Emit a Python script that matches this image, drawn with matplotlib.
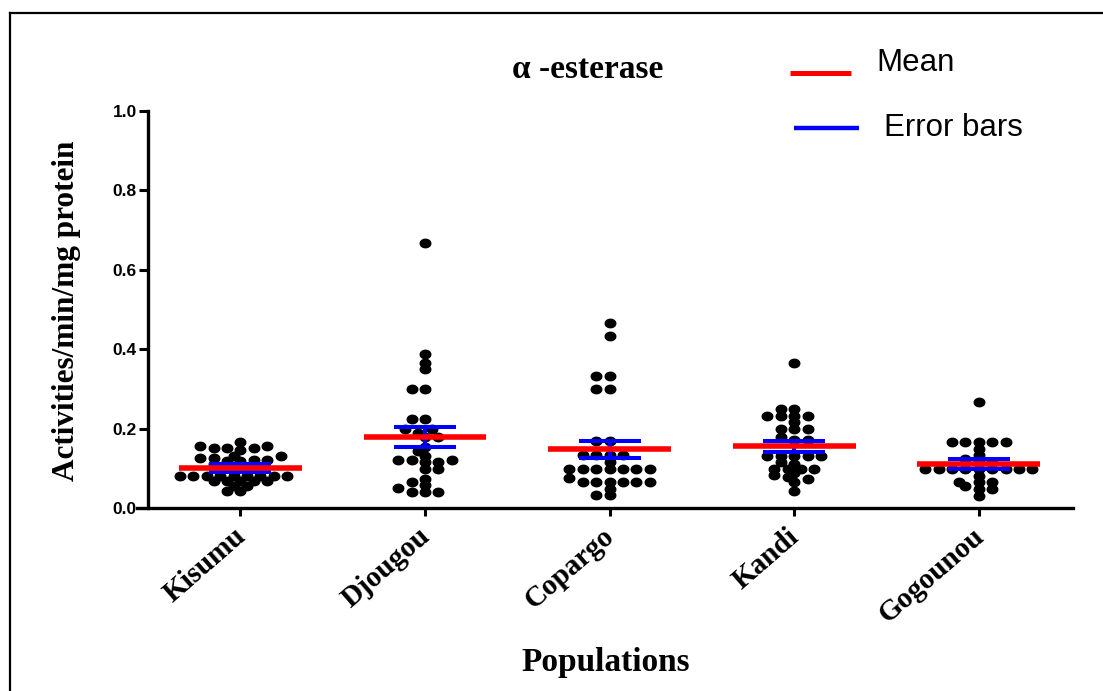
import numpy as np
import matplotlib
matplotlib.use("Agg")
import matplotlib.pyplot as plt
from matplotlib.lines import Line2D
from matplotlib.path import Path
import matplotlib.transforms as mtransforms

# ---------------- data ----------------
categories = ["Kisumu", "Djougou", "Copargo", "Kandi", "Gogounou"]

kisumu = [0.165, 0.155, 0.155, 0.150, 0.150, 0.150, 0.145, 0.130, 0.130, 0.125,
          0.125, 0.120, 0.120, 0.118, 0.118, 0.110, 0.100, 0.100, 0.100,
          0.080, 0.080, 0.080, 0.080, 0.080, 0.080, 0.080, 0.080, 0.080,
          0.068, 0.068, 0.068, 0.068, 0.068, 0.055, 0.055, 0.043, 0.043]
djougou = [0.667, 0.388, 0.366, 0.350, 0.300, 0.300, 0.223, 0.223, 0.198, 0.198,
           0.190, 0.178, 0.178, 0.154, 0.143, 0.132, 0.122, 0.122, 0.122,
           0.117, 0.117, 0.099, 0.099, 0.074, 0.065, 0.057, 0.050,
           0.041, 0.041, 0.041]
copargo = [0.467, 0.433, 0.332, 0.332, 0.299, 0.299, 0.170, 0.170,
           0.133, 0.133, 0.133, 0.133, 0.116,
           0.099, 0.099, 0.099, 0.099, 0.099, 0.099, 0.099, 0.076,
           0.066, 0.066, 0.066, 0.066, 0.066, 0.066, 0.048, 0.032, 0.032]
kandi = [0.366, 0.249, 0.249, 0.232, 0.232, 0.232, 0.232, 0.217, 0.199, 0.199,
         0.199, 0.178, 0.171, 0.171, 0.132, 0.132, 0.132, 0.132, 0.132, 0.117,
         0.110, 0.099, 0.099, 0.099, 0.099, 0.088, 0.082, 0.077, 0.074, 0.065,
         0.043]
gogounou = [0.266, 0.165, 0.165, 0.165, 0.165, 0.165, 0.149, 0.133, 0.123,
            0.115, 0.115, 0.098, 0.098, 0.098, 0.098, 0.098, 0.098, 0.098,
            0.098, 0.098, 0.081, 0.066, 0.066, 0.066, 0.055, 0.049, 0.049, 0.031]

groups = [kisumu, djougou, copargo, kandi, gogounou]
means = [0.100, 0.178, 0.148, 0.155, 0.111]
errors = [0.010, 0.025, 0.021, 0.014, 0.012]

yticks = [0.0, 0.2, 0.4, 0.6, 0.8, 1.0]

# ---------------- figure ----------------
W, H, DPI = 1103, 691, 100
fig = plt.figure(figsize=(W / DPI, H / DPI), dpi=DPI)
fig.patch.set_facecolor("white")

ax_left_px, ax_right_px = 137, 1073
ax_bottom_px, ax_top_px = 508, 111
ax = fig.add_axes([ax_left_px / W, 1 - ax_bottom_px / H,
                   (ax_right_px - ax_left_px) / W, (ax_bottom_px - ax_top_px) / H])

XMIN, XMAX = -0.56, 4.51
ax.set_xlim(XMIN, XMAX)
ax.set_ylim(0, 1.0)

px_per_x = (ax_right_px - ax_left_px) / (XMAX - XMIN)
px_per_y = (ax_bottom_px - ax_top_px) / 1.0


def swarm_offsets(vals, step_px=13.4, w_px=13.4, h_px=5.0, max_k=30):
    vals = np.asarray(vals, dtype=float)
    order = np.argsort(vals, kind="stable")
    placed = []
    offs = np.zeros(len(vals))
    for n, i in enumerate(order):
        y = vals[i] * px_per_y
        sign = 1 if n % 2 == 0 else -1
        ks = [0]
        for k in range(1, max_k):
            ks += [sign * k, -sign * k]
        for k in ks:
            x = k * step_px / 2.0
            ok = True
            for (px, py) in placed:
                if ((x - px) / w_px) ** 2 + ((y - py) / h_px) ** 2 < 0.97:
                    ok = False
                    break
            if ok:
                break
        placed.append((x, y))
        offs[i] = x
    return offs / px_per_x


# elliptical dot (reference is slightly stretched horizontally)
theta = np.linspace(0, 2 * np.pi, 40)
ellipse = Path(np.column_stack([np.cos(theta), 0.8 * np.sin(theta)]), closed=True)

for ci, vals in enumerate(groups):
    offs = swarm_offsets(vals)
    ax.plot(ci + offs, vals, linestyle="none", marker=ellipse, markersize=7.6,
            markerfacecolor="black", markeredgecolor="black", zorder=3)

# error bars (blue) and means (red)
cap_half = 0.168
mean_half = 0.333
for ci, (m, e) in enumerate(zip(means, errors)):
    ax.plot([ci, ci], [m - e, m + e], color="#0000FF", lw=2.9, zorder=4,
            solid_capstyle="butt")
    for yy in (m - e, m + e):
        ax.plot([ci - cap_half, ci + cap_half], [yy, yy], color="#0000FF", lw=2.9,
                zorder=4, solid_capstyle="butt")
    ax.plot([ci - mean_half, ci + mean_half], [m, m], color="#FF0000", lw=4.0,
            zorder=5, solid_capstyle="butt")

# axes styling
for s in ("top", "right"):
    ax.spines[s].set_visible(False)
ax.spines["left"].set_position(("data", -0.5))
ax.spines["left"].set_linewidth(2.4)
ax.spines["bottom"].set_linewidth(2.4)
ax.spines["left"].set_bounds(0, 1.0)

ax.set_yticks(yticks)
ax.set_yticklabels([f"{v:.1f}" for v in yticks], fontfamily="Liberation Sans",
                   fontweight="bold", fontsize=12.5)
ax.tick_params(axis="y", direction="out", length=6.5, width=2.2, pad=1.5)

ax.set_xticks(range(len(categories)))
ax.set_xticklabels(categories, fontfamily="Liberation Serif", fontweight="bold",
                   fontsize=21, rotation=41, ha="right", va="center",
                   rotation_mode="anchor")
ax.tick_params(axis="x", direction="out", length=6, width=2.2, pad=12)
offset = mtransforms.ScaledTranslation(1 / 72, 0, fig.dpi_scale_trans)
for lab in ax.get_xticklabels():
    lab.set_transform(lab.get_transform() + offset)

ax.minorticks_off()

# axis labels
fig.text(67 / W, 1 - 311 / H, "Activities/min/mg protein", rotation=90,
         ha="center", va="center", fontfamily="Liberation Serif",
         fontweight="bold", fontsize=22.5)
fig.text(606 / W, 1 - 662 / H, "Populations", ha="center", va="center",
         fontfamily="Liberation Serif", fontweight="bold", fontsize=24)

# title
fig.text(588 / W, 1 - 70 / H, "\u03b1 -esterase", ha="center", va="center",
         fontfamily="Liberation Serif", fontweight="bold", fontsize=24)

# legend (manual)
fig.add_artist(Line2D([790 / W, 851 / W], [1 - 73 / H, 1 - 73 / H],
                      transform=fig.transFigure, color="#FF0000", lw=3.6,
                      solid_capstyle="butt"))
fig.text(876 / W, 1 - 63 / H, "Mean", ha="left", va="center",
         fontfamily="Liberation Sans", fontsize=22.5)
fig.add_artist(Line2D([794 / W, 859 / W], [1 - 128 / H, 1 - 128 / H],
                      transform=fig.transFigure, color="#0000FF", lw=3.2,
                      solid_capstyle="butt"))
fig.text(884 / W, 1 - 128 / H, "Error bars", ha="left", va="center",
         fontfamily="Liberation Sans", fontsize=22.5)

# outer frame (left and top edges)
fig.add_artist(Line2D([10 / W, 10 / W], [0, 1 - 13 / H], transform=fig.transFigure,
                      color="black", lw=1.6))
fig.add_artist(Line2D([10 / W, 1.0], [1 - 13 / H, 1 - 13 / H],
                      transform=fig.transFigure, color="black", lw=1.6))

fig.savefig("out.png", dpi=DPI, facecolor="white")
